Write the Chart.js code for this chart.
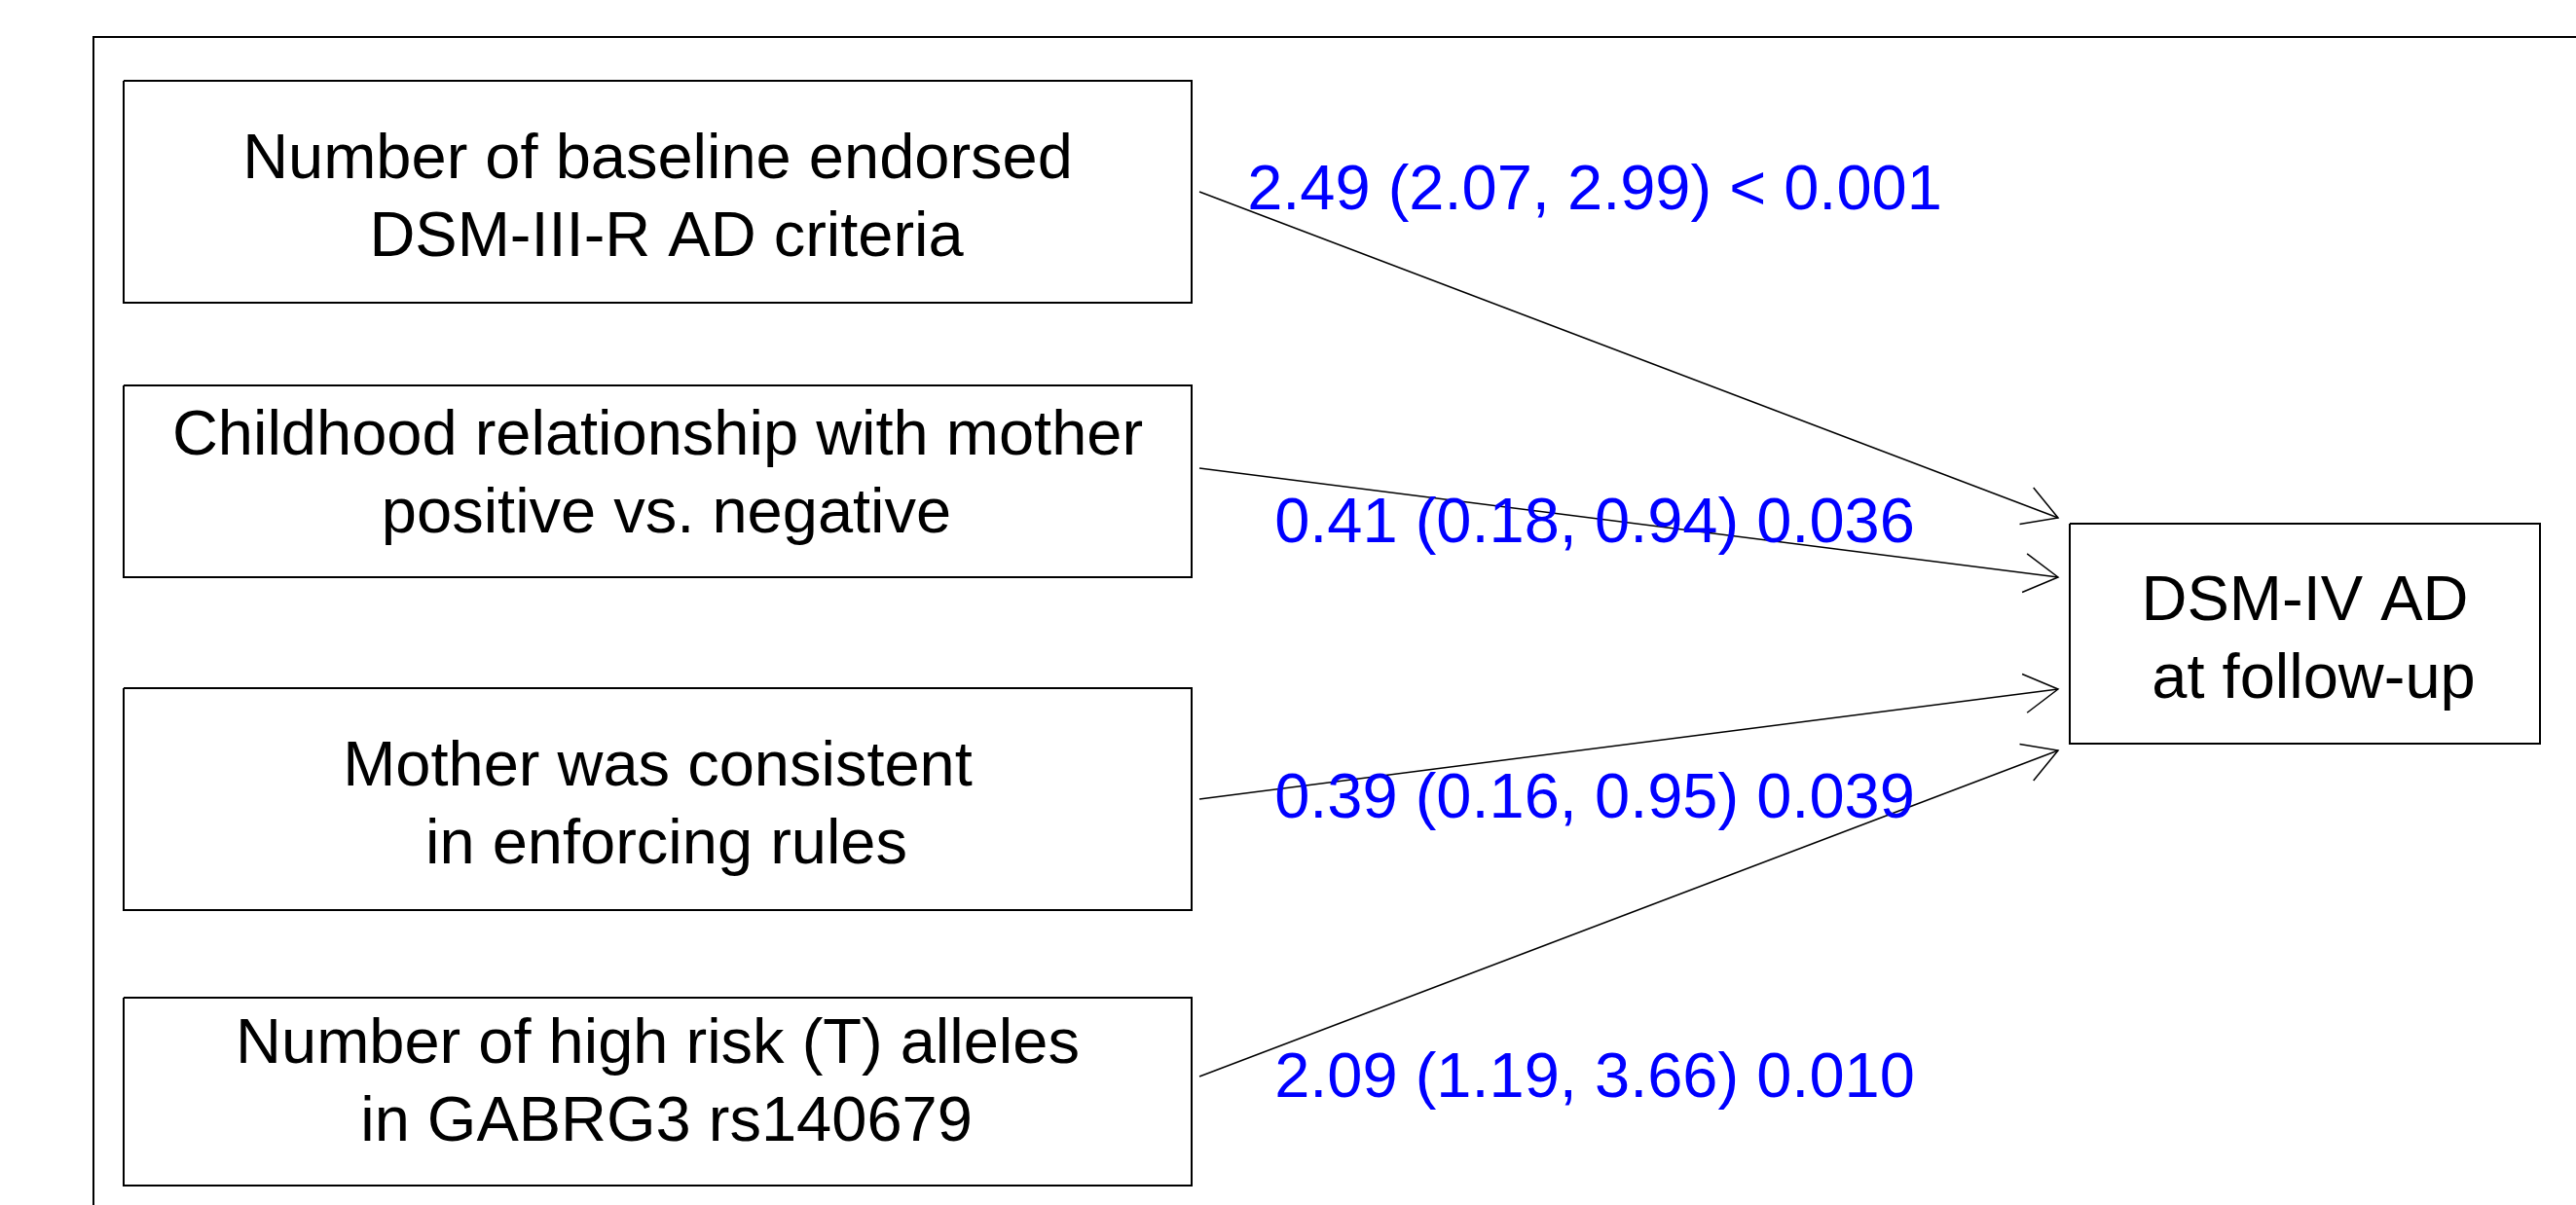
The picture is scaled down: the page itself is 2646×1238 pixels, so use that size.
<!DOCTYPE html>
<html>
<head>
<meta charset="utf-8">
<title>DSM-IV AD at follow-up</title>
<script src="https://cdn.jsdelivr.net/npm/chart.js@4.4.1/dist/chart.umd.min.js"></script>
<style>
  html, body { margin: 0; padding: 0; background: #fff; }
  #wrap { width: 2646px; height: 1238px; position: relative; }
</style>
</head>
<body>
<div id="wrap"><canvas id="diagrama"></canvas></div>
<script>
// predictors (left boxes) and outcome (right box)
const predictors = [
    ['Number of baseline endorsed', ' DSM-III-R AD criteria'],
    ['Childhood relationship with mother', ' positive vs. negative'],
    ['Mother was consistent', ' in enforcing rules'],
    ['Number of high risk (T) alleles', ' in GABRG3 rs140679']
];
const outcome = ['DSM-IV AD', ' at follow-up'];

// odds ratio, 95% CI and p value of each predictor
const oddsRatio = [2.49, 0.41, 0.39, 2.09];
const ciLower = [2.07, 0.18, 0.16, 1.19];
const ciUpper = [2.99, 0.94, 0.95, 3.66];
const pValues = ['< 0.001', '0.036', '0.039', '0.010'];

// layout, in pixels of the 2646 x 1238 picture
const W = 2646, H = 1238;
const boxLeft = 127, boxRight = 1224;
const boxTop = [83, 396, 707, 1025];
const boxBottom = [311, 593, 935, 1218];
const nodeY = [197, 481, 821, 1106];
const arrowStartX = 1232;
const arrowEndX = 2114;
const arrowEndY = [532, 593, 708, 771];
const labelX = 1638;
const labelBaseline = [215, 557, 840, 1127];
const target = { left: 2126, right: 2609, top: 538, bottom: 764, y: 651 };
const frame = { left: 96, top: 38 };
const fonte = '65px "Liberation Sans", Arial, sans-serif';

function retangulo(x1, y1, x2, y2) {
    return [{ x: x1, y: y1 }, { x: x2, y: y1 }, { x: x2, y: y2 }, { x: x1, y: y2 }, { x: x1, y: y1 }];
}

// open arrow head, 40px long, 30 degrees
function ponta(x0, y0, x1, y1) {
    const a = Math.atan2(y1 - y0, x1 - x0);
    const len = 40, ang = Math.PI / 6;
    return [
        { x: x1 - len * Math.cos(a - ang), y: y1 - len * Math.sin(a - ang) },
        { x: x1, y: y1 },
        { x: x1 - len * Math.cos(a + ang), y: y1 - len * Math.sin(a + ang) }
    ];
}

function linha(pontos, largura) {
    return {
        data: pontos,
        showLine: true,
        borderColor: '#000',
        borderWidth: largura,
        pointRadius: 0,
        pointHoverRadius: 0,
        fill: false,
        tension: 0,
        borderJoinStyle: 'miter',
        borderCapStyle: 'butt'
    };
}

const datasets = [];

// outer frame (runs off the right and bottom edge)
datasets.push(linha([{ x: frame.left, y: H + 50 }, { x: frame.left, y: frame.top }, { x: W + 50, y: frame.top }], 2));

predictors.forEach(function (p, i) {
    datasets.push(linha(retangulo(boxLeft, boxTop[i], boxRight, boxBottom[i]), 2));
    datasets.push(linha([{ x: arrowStartX, y: nodeY[i] }, { x: arrowEndX, y: arrowEndY[i] }], 1.5));
    datasets.push(linha(ponta(arrowStartX, nodeY[i], arrowEndX, arrowEndY[i]), 1.5));
});

datasets.push(linha(retangulo(target.left, target.top, target.right, target.bottom), 2));

const textos = {
    id: 'textos',
    afterDatasetsDraw(chart) {
        const ctx = chart.ctx;
        const xs = chart.scales.x, ys = chart.scales.y;
        ctx.save();
        ctx.font = fonte;
        ctx.textAlign = 'center';
        ctx.textBaseline = 'alphabetic';

        ctx.fillStyle = '#000';
        const cx = xs.getPixelForValue((boxLeft + boxRight) / 2);
        predictors.forEach(function (p, i) {
            ctx.fillText(p[0], cx, ys.getPixelForValue(nodeY[i] - 14));
            ctx.fillText(p[1], cx, ys.getPixelForValue(nodeY[i] + 66));
        });
        const tx = xs.getPixelForValue((target.left + target.right) / 2);
        ctx.fillText(outcome[0], tx, ys.getPixelForValue(target.y - 14));
        ctx.fillText(outcome[1], tx, ys.getPixelForValue(target.y + 66));

        ctx.fillStyle = '#0000ff';
        oddsRatio.forEach(function (or, i) {
            const txt = or.toFixed(2) + ' (' + ciLower[i].toFixed(2) + ', ' + ciUpper[i].toFixed(2) + ') ' + pValues[i];
            ctx.fillText(txt, xs.getPixelForValue(labelX), ys.getPixelForValue(labelBaseline[i]));
        });
        ctx.restore();
    }
};

new Chart(document.getElementById('diagrama'), {
    type: 'scatter',
    data: { datasets: datasets },
    options: {
        responsive: true,
        maintainAspectRatio: false,
        animation: false,
        events: [],
        layout: { padding: 0 },
        scales: {
            x: { type: 'linear', min: 0, max: W, display: false },
            y: { type: 'linear', min: 0, max: H, reverse: true, display: false }
        },
        plugins: {
            legend: { display: false },
            tooltip: { enabled: false }
        }
    },
    plugins: [textos]
});
</script>
</body>
</html>
